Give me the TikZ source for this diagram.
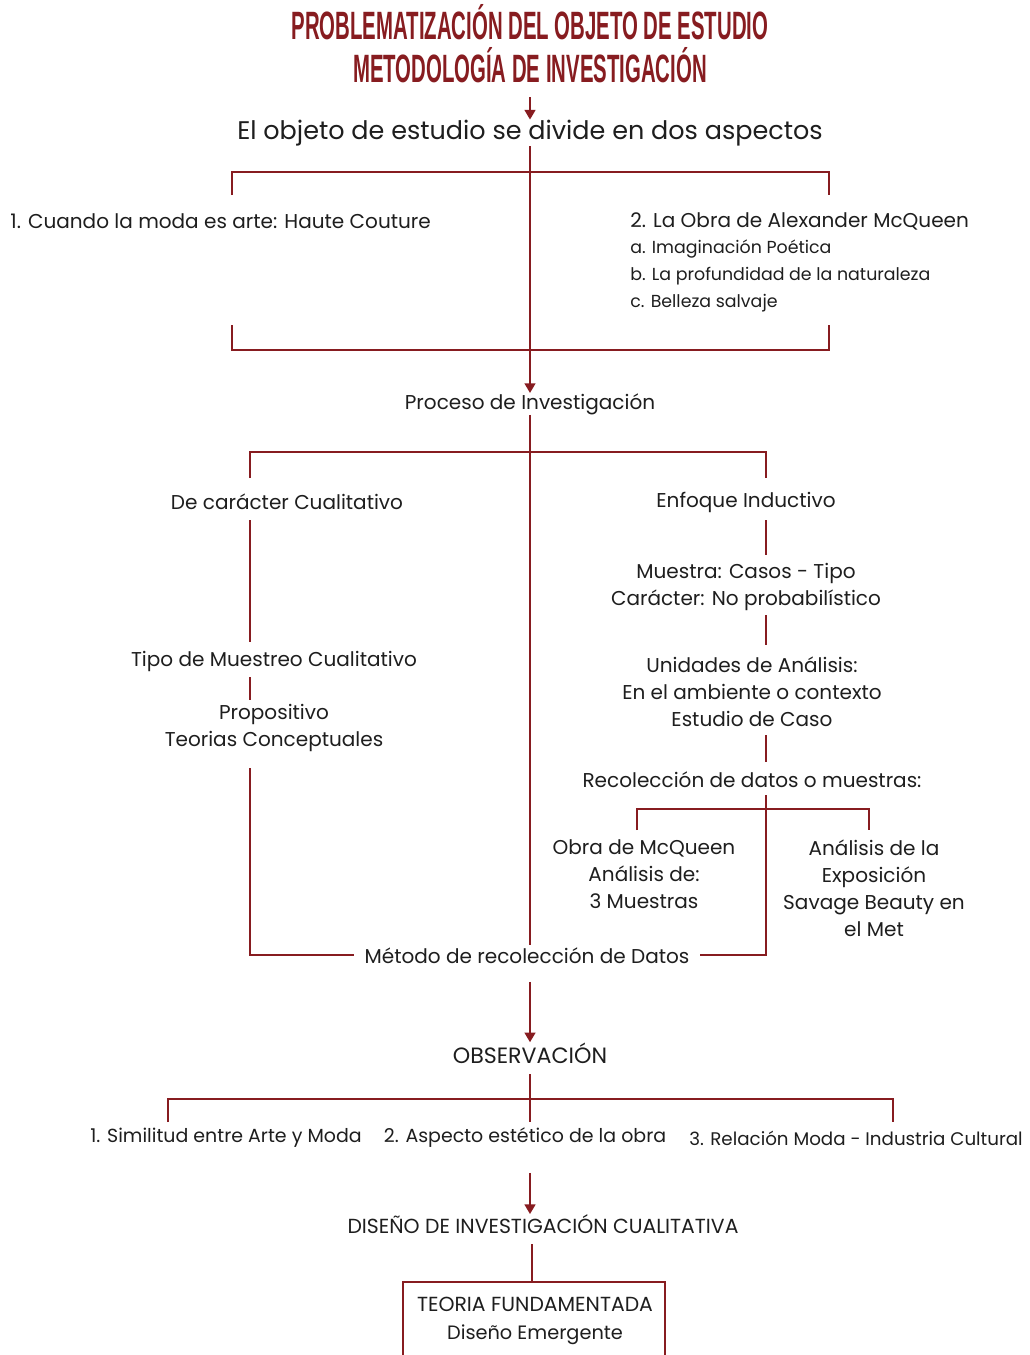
\documentclass[tikz,border=0pt]{standalone}
\usepackage{fontspec}
\setmainfont{Poppins}
\newfontfamily\titlef{Liberation Sans}
\usetikzlibrary{arrows.meta}
\definecolor{dred}{RGB}{135,28,32}
\definecolor{txt}{RGB}{30,30,30}
\begin{document}
\begin{tikzpicture}[x=0.02cm,y=-0.02cm,
  every node/.style={inner sep=0pt, text=txt, font=\fontsize{11.4}{15.3}\selectfont},
  ln/.style={draw=dred, line width=1.4pt},
  arr/.style={ln, -{Triangle[length=5.5pt,width=6pt]}},
  big/.style={font=\fontsize{14.5}{18}\selectfont},
  small/.style={font=\fontsize{9.9}{15.3}\selectfont},
  bot/.style={font=\fontsize{10.8}{15.3}\selectfont},
  caps/.style={font=\fontsize{11.6}{15.6}\selectfont},
  ttl/.style={text=dred, font=\titlef\bfseries\fontsize{22.5}{24}\selectfont}]
\useasboundingbox[fill=white] (0,0) rectangle (1029,1355);
% title
\node[ttl] (t1) at (530,22) {\scalebox{0.515}[1]{PROBLEMATIZACIÓN DEL OBJETO DE ESTUDIO}};
\node[ttl] (t2) at (530,65) {\scalebox{0.515}[1]{METODOLOGÍA DE INVESTIGACIÓN}};
\node[big] (obj) at (530,133) {El objeto de estudio se divide en dos aspectos};
\draw[arr, shorten <=8pt] (t2) -- (obj);
% aspects
\node[anchor=west] (hc) at (10,221) {1. Cuando la moda es arte: Haute Couture};
\node[anchor=west] (mq) at (630,221) {2. La Obra de Alexander McQueen};
\node[small, anchor=west] (mqa) at (630,249) {a. Imaginación Poética};
\node[small, anchor=west] (mqb) at (630,276) {b. La profundidad de la naturaleza};
\node[small, anchor=west] (mqc) at (630,303) {c. Belleza salvaje};
\node (proc) at (530,404) {Proceso de Investigación};
\draw[arr] (obj) -- (proc);
\coordinate (b1a) at (232,195); \coordinate (b1b) at (232,172);
\coordinate (b1c) at (829,172); \coordinate (b1d) at (829,195);
\draw[ln] (b1a) -- (b1b) -- (b1c) -- (b1d);
\coordinate (b2a) at (232,325); \coordinate (b2b) at (232,350);
\coordinate (b2c) at (829,350); \coordinate (b2d) at (829,325);
\draw[ln] (b2a) -- (b2b) -- (b2c) -- (b2d);
% process branches
\coordinate (p1a) at (250,478); \coordinate (p1b) at (250,452);
\coordinate (p1c) at (766,452); \coordinate (p1d) at (766,478);
\draw[ln] (p1a) -- (p1b) -- (p1c) -- (p1d);
\node (cual) at (287,502) {De carácter Cualitativo};
\node (ind) at (746,502) {Enfoque Inductivo};
\node (tipo) at (274,661) {Tipo de Muestreo Cualitativo};
\node[align=center] (prop) at (274,728) {Propositivo\\Teorias Conceptuales};
\node[align=center] (mues) at (746,587) {Muestra: Casos - Tipo\\Carácter: No probabilístico};
\node[align=center] (uni) at (752,692) {Unidades de Análisis:\\En el ambiente o contexto\\Estudio de Caso};
\node (rec) at (752,780) {Recolección de datos o muestras:};
\node[align=center] (obra) at (644,874) {Obra de McQueen\\Análisis de:\\3 Muestras};
\node[align=center] (expo) at (874,888) {Análisis de la\\Exposición\\Savage Beauty en\\el Met};
\node (met) at (527,956) {Método de recolección de Datos};
% left column
\coordinate (l1) at (250,520); \coordinate (l2) at (250,642);
\draw[ln] (l1) -- (l2);
\coordinate (l3) at (250,677); \coordinate (l4) at (250,700);
\draw[ln] (l3) -- (l4);
\coordinate (l5) at (250,768); \coordinate (l6) at (250,955);
\draw[ln] (l5) -- (l6) -- ([xshift=-6pt]l6 -| met.west);
% right column
\coordinate (r1) at (766,520); \coordinate (r2) at (766,555);
\draw[ln] (r1) -- (r2);
\coordinate (r3) at (766,615); \coordinate (r4) at (766,645);
\draw[ln] (r3) -- (r4);
\coordinate (r5) at (766,735); \coordinate (r6) at (766,762);
\draw[ln] (r5) -- (r6);
\coordinate (r7) at (766,795); \coordinate (r8) at (766,955);
\draw[ln] (r7) -- (r8) -- ([xshift=6pt]r8 -| met.east);
\coordinate (s1) at (637,830); \coordinate (s2) at (637,809);
\coordinate (s3) at (869,809); \coordinate (s4) at (869,830);
\draw[ln] (s1) -- (s2) -- (s3) -- (s4);
% centre line
\coordinate (c1) at (530,945);
\draw[ln] (proc) -- (c1);
% observation
\node[caps, font=\fontsize{12.6}{15}\selectfont] (obs) at (530,1053) {OBSERVACIÓN};
\draw[arr, shorten <=10pt] (met.south -| obs.north) -- (obs);
\node[bot] (o1) at (226,1138) {1. Similitud entre Arte y Moda};
\node[bot] (o2) at (525,1138) {2. Aspecto estético de la obra};
\node[bot, font=\fontsize{10.4}{15}\selectfont] (o3) at (856,1138) {3. Relación Moda - Industria Cultural};
\coordinate (q1) at (168,1122); \coordinate (q2) at (168,1099);
\coordinate (q3) at (893,1099); \coordinate (q4) at (893,1122);
\draw[ln] (q1) -- (q2) -- (q3) -- (q4);
\coordinate (qc) at (530,1122);
\draw[ln, shorten <=6pt] (obs) -- (qc);
\node[caps] (dis) at (543,1224) {DISEÑO DE INVESTIGACIÓN CUALITATIVA};
\draw[arr, shorten <=14pt] (o2.south -| 530,0) -- (dis.north -| 530,0);
\coordinate (bx1) at (403,1360); \coordinate (bx2) at (403,1282);
\coordinate (bx3) at (665,1282); \coordinate (bx4) at (665,1360);
\draw[ln] (bx1) -- (bx2) -- (bx3) -- (bx4);
\node[align=center, caps] (teo) at (535,1321) {TEORIA FUNDAMENTADA\\{\fontsize{11}{15}\selectfont Diseño Emergente}};
\draw[ln, shorten <=6pt] (dis.south -| 532,0) -- (bx2 -| 532,0);
\end{tikzpicture}
\end{document}
